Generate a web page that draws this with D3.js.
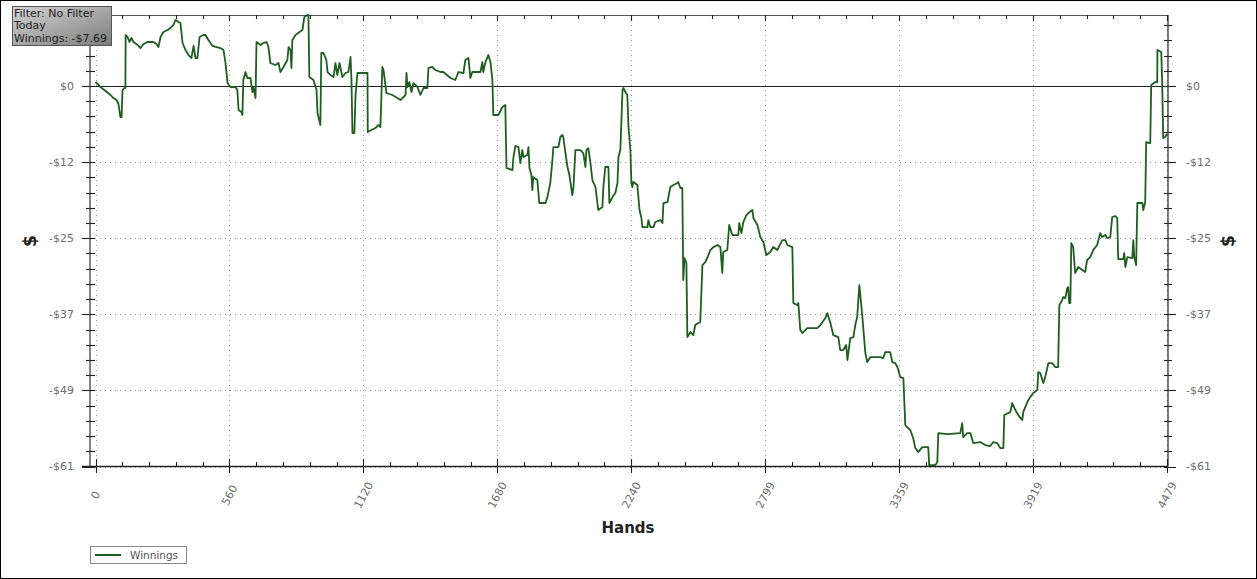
<!DOCTYPE html>
<html>
<head>
<meta charset="utf-8">
<script src="https://cdn.jsdelivr.net/npm/d3@7/dist/d3.min.js"></script>
<style>
html,body{margin:0;padding:0;background:#fff;}
svg{display:block;}
text{font-family:"DejaVu Sans",Verdana,sans-serif;}
</style>
</head>
<body>
<svg id="chart" width="1257" height="579"></svg>
<script>
// ---- data ----
const hands = [0,21,42,63,75,88,96,104,109,113,121,125,126,134,142,150,159,176,188,201,217,242,255,263,272,284,301,313,326,334,347,355,364,376,389,401,410,418,426,435,451,460,472,489,506,522,535,543,552,564,585,593,598,610,614,618,627,635,648,656,660,669,673,690,702,715,723,731,752,765,773,786,802,807,815,819,823,836,853,865,873,886,890,894,911,924,928,932,940,944,953,965,970,982,995,1003,1011,1020,1032,1045,1057,1066,1070,1074,1082,1087,1095,1137,1138,1153,1170,1183,1191,1199,1204,1216,1241,1262,1275,1296,1300,1304,1312,1321,1329,1346,1358,1371,1387,1392,1408,1421,1442,1454,1484,1504,1517,1538,1546,1559,1567,1575,1609,1617,1621,1630,1642,1651,1659,1663,1684,1701,1713,1718,1743,1747,1755,1768,1776,1784,1789,1805,1810,1814,1822,1826,1830,1847,1855,1881,1889,1901,1910,1914,1935,1943,1952,1956,1964,1973,1981,1993,1998,2006,2027,2039,2048,2052,2060,2069,2077,2090,2098,2102,2119,2123,2131,2144,2148,2161,2173,2182,2186,2194,2203,2207,2215,2223,2228,2236,2240,2244,2248,2265,2274,2282,2286,2307,2311,2319,2332,2340,2361,2370,2374,2391,2403,2416,2432,2436,2445,2453,2457,2462,2470,2474,2487,2499,2507,2528,2537,2549,2562,2570,2583,2600,2612,2620,2624,2641,2649,2662,2687,2691,2700,2708,2721,2729,2746,2750,2767,2779,2792,2804,2821,2833,2850,2871,2884,2892,2913,2917,2934,2938,2946,2955,2975,3017,3030,3051,3059,3072,3084,3105,3113,3126,3138,3143,3155,3168,3176,3184,3193,3205,3218,3226,3239,3281,3293,3301,3322,3331,3343,3352,3364,3377,3385,3406,3418,3427,3439,3456,3481,3485,3510,3519,3523,3561,3615,3623,3627,3644,3657,3669,3698,3719,3740,3753,3769,3782,3795,3799,3824,3832,3845,3857,3874,3878,3895,3907,3920,3937,3941,3949,3958,3962,3970,3983,3999,4012,4024,4029,4041,4045,4054,4062,4066,4070,4075,4079,4087,4095,4108,4137,4145,4158,4171,4187,4200,4208,4221,4229,4242,4250,4263,4271,4275,4296,4300,4305,4313,4334,4338,4342,4350,4355,4376,4380,4388,4392,4409,4413,4430,4438,4439,4455,4459,4463,4471,4479];
const winnings = [0.65,-0.16,-0.81,-1.45,-1.94,-2.26,-2.9,-5.0,-5.0,-0.65,-0.32,-0.32,8.23,7.91,7.10,7.75,7.10,6.62,6.13,6.78,7.10,7.10,6.78,6.29,7.91,8.72,9.04,9.36,9.85,10.65,10.33,10.17,6.94,5.81,5.00,4.52,6.46,4.52,4.52,7.91,8.23,8.23,7.42,6.46,6.29,6.13,5.81,3.87,0.48,-0.16,-0.16,-0.65,-3.87,-4.20,-4.68,0.97,2.26,1.29,1.29,-0.97,-0.16,-1.94,7.10,6.62,6.94,7.10,6.29,3.71,3.39,3.71,2.26,3.07,4.20,6.29,5.81,2.91,7.42,8.23,8.72,9.04,11.14,11.46,11.46,1.45,0.97,-0.65,-4.36,-5.00,-6.29,5.33,5.33,4.20,2.26,1.78,1.45,3.71,1.78,3.71,1.45,2.10,2.26,4.68,0.97,-7.59,-7.59,-1.45,2.10,2.10,-7.42,-7.10,-6.78,-6.29,-6.62,3.07,2.58,-1.13,-1.45,-1.94,-2.26,-1.45,2.10,-0.16,0.65,-0.97,0.48,-0.16,-1.45,-0.32,-0.32,2.91,3.07,2.58,2.26,2.26,1.29,0.97,2.26,2.10,4.20,4.52,1.29,2.26,2.26,3.87,2.26,3.87,5.00,3.87,0.97,-4.68,-4.68,-3.39,-3.07,-13.23,-13.56,-11.46,-9.68,-9.85,-12.43,-10.33,-11.46,-11.14,-9.85,-13.23,-14.36,-16.79,-14.69,-15.17,-18.88,-18.88,-17.92,-15.66,-11.94,-9.85,-9.85,-8.23,-7.91,-8.39,-10.65,-13.07,-14.36,-17.59,-16.30,-10.33,-10.33,-10.81,-13.07,-10.33,-10.01,-12.43,-15.17,-16.30,-18.88,-20.01,-19.53,-16.30,-13.07,-13.07,-18.88,-17.92,-17.27,-15.66,-11.46,-10.33,-0.65,-0.32,-0.97,-1.45,-6.62,-10.33,-15.66,-16.30,-15.49,-15.98,-20.01,-21.30,-22.76,-22.76,-21.63,-22.76,-22.76,-21.95,-21.63,-22.11,-18.88,-18.72,-16.30,-15.98,-15.66,-15.49,-16.46,-16.46,-31.31,-27.76,-28.57,-40.51,-39.70,-40.19,-38.57,-38.09,-28.89,-28.41,-27.28,-26.47,-25.99,-25.66,-25.99,-30.18,-26.79,-26.47,-22.43,-24.05,-24.05,-22.11,-23.73,-21.95,-20.82,-20.50,-20.01,-21.30,-22.43,-24.37,-25.18,-27.28,-26.79,-25.99,-26.47,-24.86,-24.86,-25.66,-25.99,-35.02,-35.35,-35.02,-39.38,-39.87,-39.06,-39.06,-38.57,-37.45,-36.64,-38.25,-40.19,-40.51,-42.61,-42.61,-41.80,-44.22,-40.67,-40.51,-38.57,-37.28,-32.12,-36.96,-43.09,-44.55,-43.74,-43.74,-43.90,-42.93,-42.93,-44.55,-44.71,-45.35,-46.97,-47.13,-54.71,-55.52,-56.81,-58.43,-59.07,-58.27,-58.27,-61.20,-61.20,-60.69,-56.01,-56.17,-56.01,-54.39,-56.65,-56.01,-56.01,-57.62,-57.46,-57.94,-58.10,-57.46,-57.62,-58.43,-58.43,-53.10,-52.62,-51.16,-52.29,-53.10,-53.91,-52.62,-51.00,-50.20,-49.55,-49.07,-46.16,-46.32,-47.45,-47.94,-46.97,-44.71,-44.71,-45.35,-45.35,-35.35,-34.54,-34.06,-34.22,-32.60,-32.44,-35.02,-35.02,-25.34,-25.99,-30.18,-29.21,-30.02,-28.08,-27.60,-26.47,-25.66,-23.73,-24.37,-24.05,-24.53,-24.37,-21.14,-20.98,-21.30,-27.92,-27.92,-26.95,-29.21,-27.60,-27.76,-24.86,-27.60,-28.89,-18.88,-18.88,-20.01,-18.72,-9.04,-9.20,0.16,0.65,0.65,5.81,5.49,0.48,-8.39,-8.23,-7.69];

const xTickValues = [0,559.875,1119.75,1679.625,2239.5,2799.375,3359.25,3919.125,4479];
const xTickLabels = ["0","560","1120","1680","2240","2799","3359","3919","4479"];
const yTickValues = [0,-12.28,-24.56,-36.84,-49.12,-61.4];
const yTickLabels = ["$0","-$12","-$25","-$37","-$49","-$61"];
const xDomain = [0,4479];
const yDomain = [-61.4,11.46];
const seriesName = "Winnings";
const filterLines = ["Filter: No Filter","Today","Winnings: -$7.69"];
const xTitle = "Hands";
const yTitle = "$";

// ---- layout ----
const W = 1257, H = 579;
const plot = {left:90, right:1168, top:15, bottom:466.5, x0:95.5, x1:1167};
const svg = d3.select("#chart");
const x = d3.scaleLinear().domain(xDomain).range([plot.x0, plot.x1]);
const y = d3.scaleLinear().domain(yDomain).range([plot.bottom, plot.top]);

svg.append("rect").attr("x",0.5).attr("y",0.5).attr("width",W-1).attr("height",H-1)
  .attr("fill","#fff").attr("stroke","#000").attr("stroke-width",1);

const defs = svg.append("defs");
const grad = defs.append("linearGradient").attr("id","fbox").attr("x1","0").attr("y1","0").attr("x2","1").attr("y2","1");
grad.append("stop").attr("offset","0%").attr("stop-color","#d4d4d4");
grad.append("stop").attr("offset","100%").attr("stop-color","#7c7c7c");

// grid
const grid = svg.append("g");
yTickValues.forEach(v => {
  if (v === 0) return;
  grid.append("line").attr("x1",plot.left).attr("x2",plot.right)
    .attr("y1",Math.round(y(v))+0.5).attr("y2",Math.round(y(v))+0.5)
    .attr("stroke","#9a9a9a").attr("stroke-width",1).attr("stroke-dasharray","1,4");
});
xTickValues.forEach(v => {
  grid.append("line").attr("y1",plot.top).attr("y2",plot.bottom)
    .attr("x1",Math.round(x(v))+0.5).attr("x2",Math.round(x(v))+0.5)
    .attr("stroke","#9a9a9a").attr("stroke-width",1).attr("stroke-dasharray","1,4");
});

// frame
const ax = svg.append("g").attr("stroke","#222").attr("fill","none");
ax.append("line").attr("x1",plot.left).attr("x2",plot.left).attr("y1",plot.top).attr("y2",plot.bottom).attr("stroke","#666").attr("stroke-width",1.6);
ax.append("line").attr("x1",plot.right).attr("x2",plot.right).attr("y1",plot.top).attr("y2",plot.bottom).attr("stroke-width",1.2);
ax.append("line").attr("x1",plot.left).attr("x2",plot.right).attr("y1",plot.top+0.5).attr("y2",plot.top+0.5).attr("stroke","#555").attr("stroke-width",1.2);
ax.append("line").attr("x1",82).attr("x2",plot.right).attr("y1",plot.bottom).attr("y2",plot.bottom).attr("stroke-width",1.3);

// zero line
ax.append("line").attr("x1",82).attr("x2",1176).attr("y1",Math.round(y(0))+0.5).attr("y2",Math.round(y(0))+0.5).attr("stroke","#222").attr("stroke-width",1.1);

// y ticks
const yStep = yTickValues[0]-yTickValues[1];
const yMinor = d3.range(yDomain[0], yDomain[1]+0.001, yStep/5);
yMinor.forEach((v,i) => {
  const yy = Math.round(y(v))+0.5;
  const major = i % 5 === 0;
  ax.append("line").attr("x1", major?82:86).attr("x2",95).attr("y1",yy).attr("y2",yy).attr("stroke-width",1.1);
  ax.append("line").attr("x1",1164).attr("x2", major?1176:1172).attr("y1",yy).attr("y2",yy).attr("stroke-width",1.1);
});
// x ticks
const xStep = xTickValues[1]-xTickValues[0];
const xMinor = d3.range(0, xDomain[1]+0.01, xStep/5);
xMinor.forEach((v,i) => {
  const xx = Math.round(x(v))+0.5;
  const major = i % 5 === 0;
  ax.append("line").attr("x1",xx).attr("x2",xx).attr("y1", major?459:462).attr("y2", major?473:plot.bottom).attr("stroke-width",1.1);
  ax.append("line").attr("x1",xx).attr("x2",xx).attr("y1",plot.top).attr("y2", major?21:19).attr("stroke-width",1.1);
});

// y labels
yTickValues.forEach((v,i) => {
  svg.append("text").attr("x",74).attr("y",y(v)).attr("dy","0.36em").attr("text-anchor","end")
    .attr("font-size","11px").attr("fill","#6e6e6e").text(yTickLabels[i]);
  svg.append("text").attr("x",1186).attr("y",y(v)).attr("dy","0.36em").attr("text-anchor","start")
    .attr("font-size","11px").attr("fill","#6e6e6e").text(yTickLabels[i]);
});
// x labels
xTickValues.forEach((v,i) => {
  svg.append("text").attr("transform",`translate(${x(v)},495) rotate(-62)`)
    .attr("text-anchor","middle").attr("dy","0.36em")
    .attr("font-size","11px").attr("fill","#6e6e6e").text(xTickLabels[i]);
});

// titles
svg.append("text").attr("x",628).attr("y",533).attr("text-anchor","middle")
  .attr("font-size","15px").attr("font-weight","bold").attr("fill","#222").text(xTitle);
svg.append("text").attr("transform","translate(30,241) rotate(-90)").attr("text-anchor","middle").attr("dy","0.36em")
  .attr("font-size","17px").attr("font-weight","bold").attr("fill","#222").text(yTitle);
svg.append("text").attr("transform","translate(1228,241) rotate(-90)").attr("text-anchor","middle").attr("dy","0.36em")
  .attr("font-size","17px").attr("font-weight","bold").attr("fill","#222").text(yTitle);

// series
const pts = d3.range(Math.min(hands.length, winnings.length)).map(i => [hands[i], winnings[i]]);
const line = d3.line().x(d => x(d[0])).y(d => y(d[1])).curve(d3.curveLinear);
svg.append("path").datum(pts).attr("d",line).attr("fill","none")
  .attr("stroke","#1e5e1e").attr("stroke-width",1.8).attr("stroke-linejoin","round");

// filter box
svg.append("rect").attr("x",12.5).attr("y",6.5).attr("width",99).attr("height",39)
  .attr("fill","url(#fbox)").attr("stroke","#555").attr("stroke-width",1);
filterLines.forEach((t,i) => {
  svg.append("text").attr("x",14).attr("y",16.5+i*12.5).attr("font-size","11px").attr("fill","#222").text(t);
});

// legend
svg.append("rect").attr("x",90.5).attr("y",546.5).attr("width",96).attr("height",17)
  .attr("fill","#fff").attr("stroke","#888").attr("stroke-width",1);
svg.append("line").attr("x1",95).attr("x2",121).attr("y1",555).attr("y2",555).attr("stroke","#1e5e1e").attr("stroke-width",2);
svg.append("text").attr("x",130).attr("y",559).attr("font-size","10.5px").attr("fill","#555").text(seriesName);
</script>
</body>
</html>
